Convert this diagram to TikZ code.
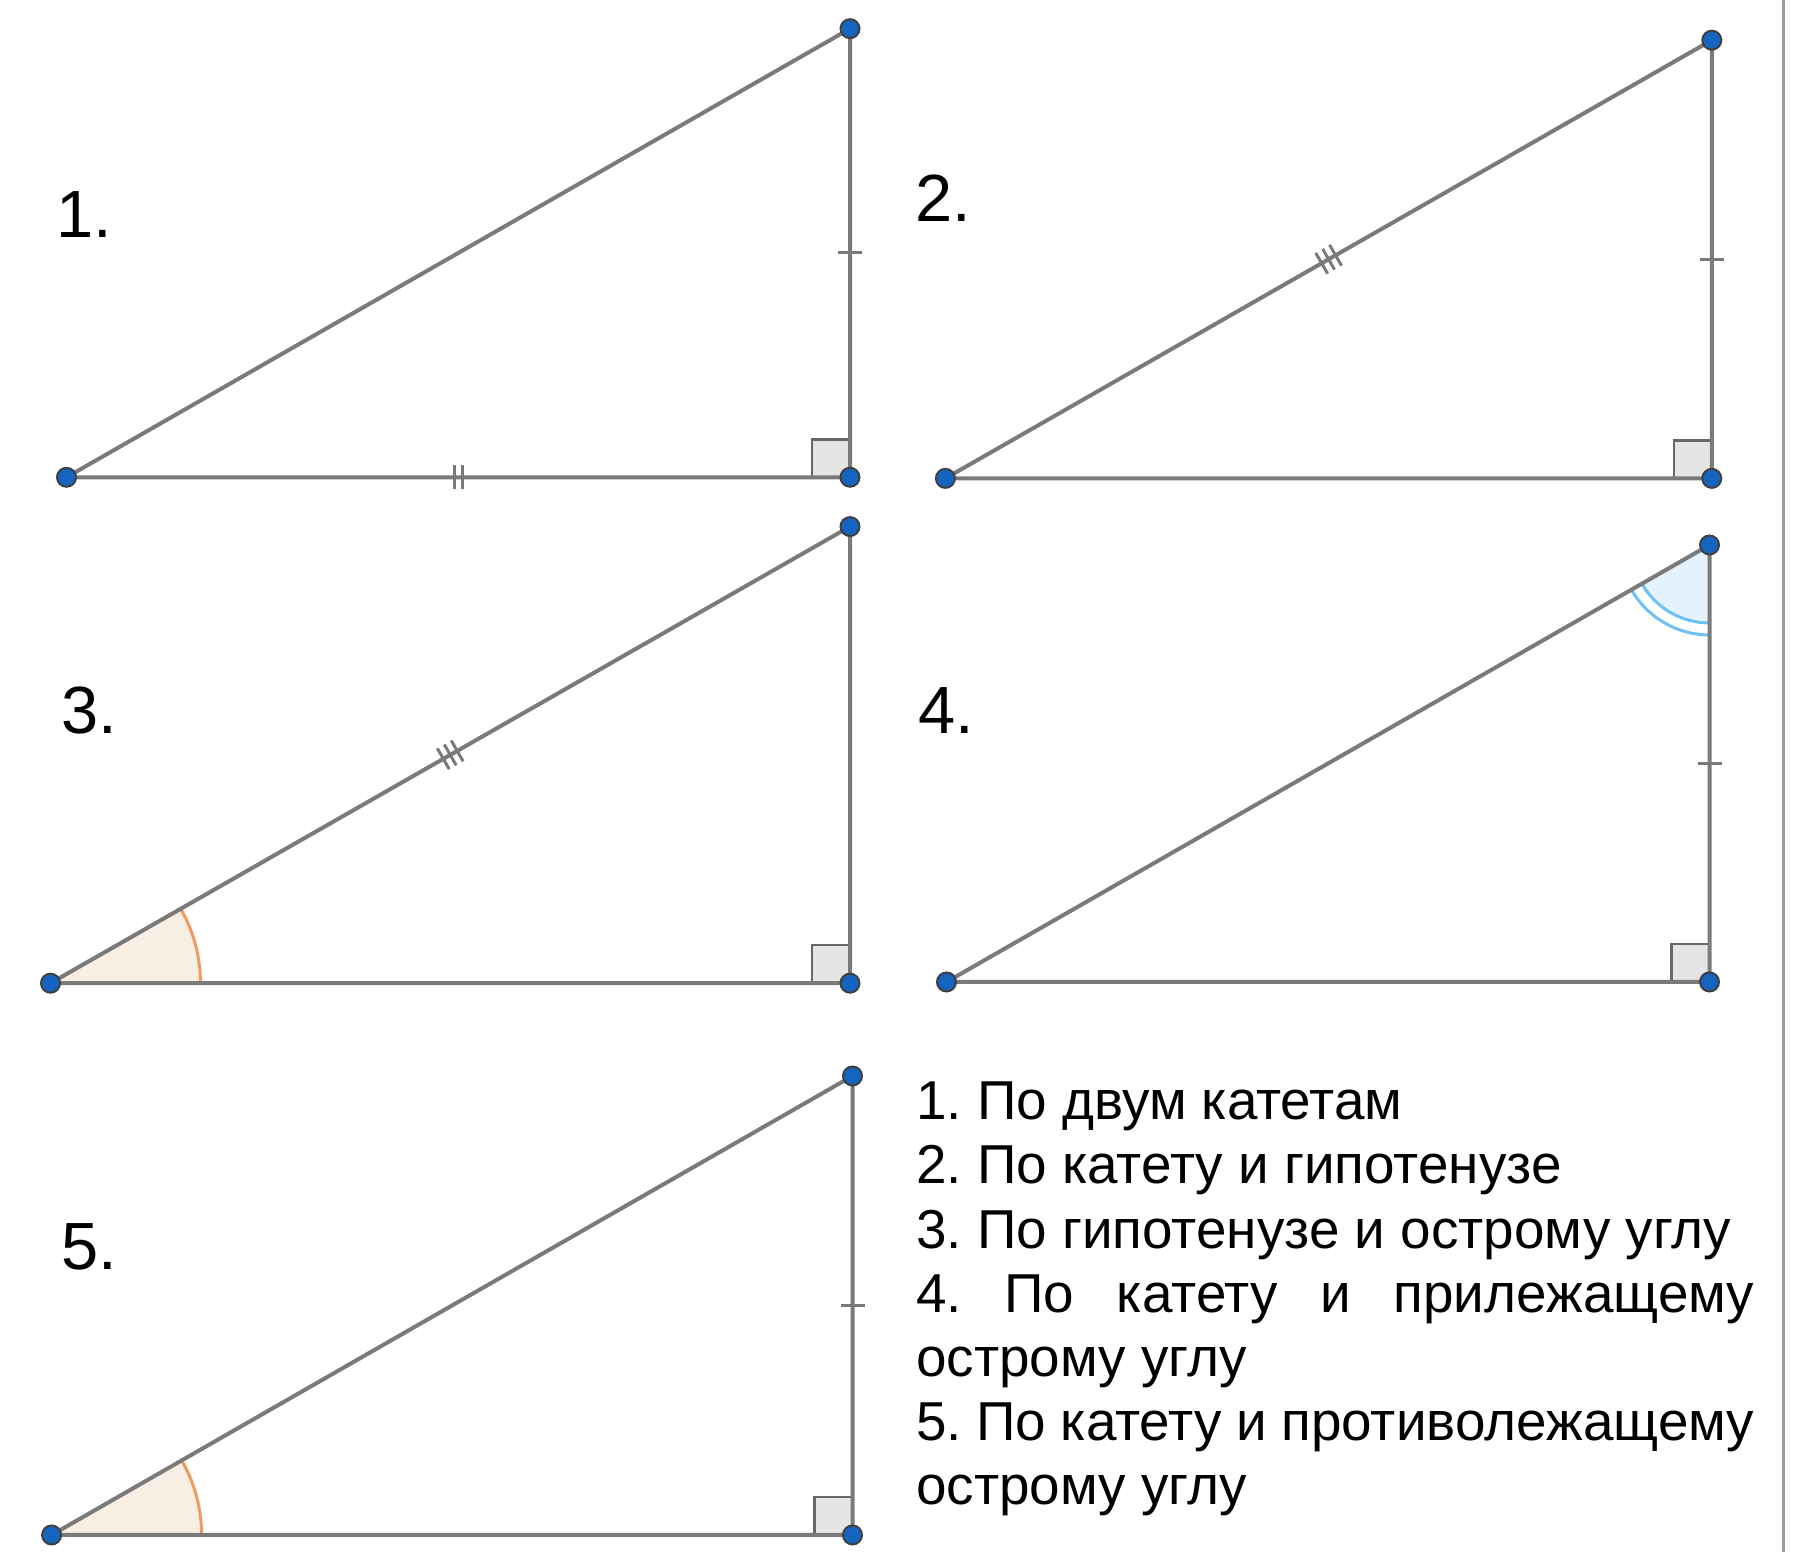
\documentclass[tikz,border=0pt]{standalone}
\usepackage{fontspec}
\setmainfont{Liberation Sans}
\usetikzlibrary{calc}
\definecolor{edgegray}{HTML}{7A7A7A}
\definecolor{ptblue}{HTML}{1565C0}
\definecolor{angorange}{HTML}{EE9B62}
\definecolor{angorangefill}{HTML}{F8EEE4}
\definecolor{angblue}{HTML}{6EC1F5}
\definecolor{angbluefill}{HTML}{E3F2FC}
\frenchspacing

\begin{document}
\begin{tikzpicture}[
  x=0.1mm, y=0.1mm,
  side/.style={draw=edgegray, line width=0.4mm},
  tick/.style={draw=edgegray, line width=0.3mm},
  rightang/.style={draw=edgegray!85!black, fill=gray!20, line width=0.25mm},
  pt/.style={circle, fill=ptblue, draw=black!75, line width=0.2mm, inner sep=0pt, minimum size=1.9mm},
  num/.style={font=\fontsize{19pt}{22pt}\selectfont},
  crit/.style={font=\fontsize{15.6pt}{18.27pt}\selectfont, align=left, inner sep=0pt}
]
\useasboundingbox (0,0) rectangle (1799,1552);

% vertices
\coordinate (a1) at (66.5,1074.7);  \coordinate (b1) at (850,1074.7);   \coordinate (c1) at (850,1523.3);
\coordinate (a2) at (945.4,1073.6); \coordinate (b2) at (1711.8,1073.6); \coordinate (c2) at (1711.8,1511.8);
\coordinate (a3) at (50.5,568.8);   \coordinate (b3) at (850,568.8);    \coordinate (c3) at (850,1025.4);
\coordinate (a4) at (946.5,570);    \coordinate (b4) at (1709.5,570);   \coordinate (c4) at (1709.5,1007);
\coordinate (a5) at (51.6,17);      \coordinate (b5) at (852.5,17);     \coordinate (c5) at (852.5,476);

% angle marks
\fill[angorangefill] (a3) -- ++(15mm,0) arc[start angle=0, end angle=29.7, radius=15mm] -- cycle;
\draw[angorange, line width=0.3mm] (a3) ++(15mm,0) arc[start angle=0, end angle=29.7, radius=15mm];
\fill[angorangefill] (a5) -- ++(15mm,0) arc[start angle=0, end angle=29.8, radius=15mm] -- cycle;
\draw[angorange, line width=0.3mm] (a5) ++(15mm,0) arc[start angle=0, end angle=29.8, radius=15mm];
\fill[angbluefill] (c4) -- ++(209.8:7.8mm) arc[start angle=209.8, end angle=270, radius=7.8mm] -- cycle;
\draw[angblue, line width=0.3mm] (c4) ++(209.8:7.8mm) arc[start angle=209.8, end angle=270, radius=7.8mm];
\draw[angblue, line width=0.3mm] (c4) ++(209.8:9mm) arc[start angle=209.8, end angle=270, radius=9mm];

% right angles
\draw[rightang] (b1) rectangle ++(-38,38);
\draw[rightang] (b2) rectangle ++(-38,38);
\draw[rightang] (b3) rectangle ++(-38,38);
\draw[rightang] (b4) rectangle ++(-38,38);
\draw[rightang] (b5) rectangle ++(-38,38);

% sides
\draw[side] (a1) -- (b1) -- (c1) -- cycle;
\draw[side] (a2) -- (b2) -- (c2) -- cycle;
\draw[side] (a3) -- (b3) -- (c3) -- cycle;
\draw[side] (a4) -- (b4) -- (c4) -- cycle;
\draw[side] (a5) -- (b5) -- (c5) -- cycle;

% equal-length ticks
\draw[tick] ($(b1)!0.5!(c1)$) +(-12,0) -- +(12,0);
\draw[tick, shift={($(a1)!0.5!(b1)$)}] (-4,-12) -- (-4,12) (4,-12) -- (4,12);
\draw[tick] ($(b2)!0.5!(c2)$) +(-12,0) -- +(12,0);
\draw[tick, shift={($(a2)!0.5!(c2)$)}, rotate=29.8] (-8,-12) -- (-8,12) (0,-12) -- (0,12) (8,-12) -- (8,12);
\draw[tick, shift={($(a3)!0.5!(c3)$)}, rotate=29.7] (-8,-12) -- (-8,12) (0,-12) -- (0,12) (8,-12) -- (8,12);
\draw[tick] ($(b4)!0.5!(c4)$) +(-12,0) -- +(12,0);
\draw[tick] ($(b5)!0.5!(c5)$) +(-12,0) -- +(12,0);

% points
\foreach \p in {a1,b1,c1,a2,b2,c2,a3,b3,c3,a4,b4,c4,a5,b5,c5}
  \node[pt] (dot-\p) at (\p) {};

% numbers
\node[num] (lab1) at (84,1337.5) {1.};
\node[num] (lab2) at (943,1353.5) {2.};
\node[num] (lab3) at (89.5,841) {3.};
\node[num] (lab4) at (946.5,841) {4.};
\node[num] (lab5) at (89.5,305) {5.};

% list of criteria
\node[crit, anchor=base west] (criteria) at (915.5,47) {1. По двум катетам\\
2. По катету и гипотенузе\\
3. По гипотенузе и острому углу\\
\makebox[83.8mm][s]{4. По катету и прилежащему}\\
острому углу\\
\makebox[83.8mm][s]{5. По катету и противолежащему}\\
острому углу};

% frame edge
\coordinate (edge-bot) at (1783,0);
\coordinate (edge-top) at (1783,1552);
\draw[gray!75, line width=0.3mm] (edge-bot) -- (edge-top);
\end{tikzpicture}
\end{document}
